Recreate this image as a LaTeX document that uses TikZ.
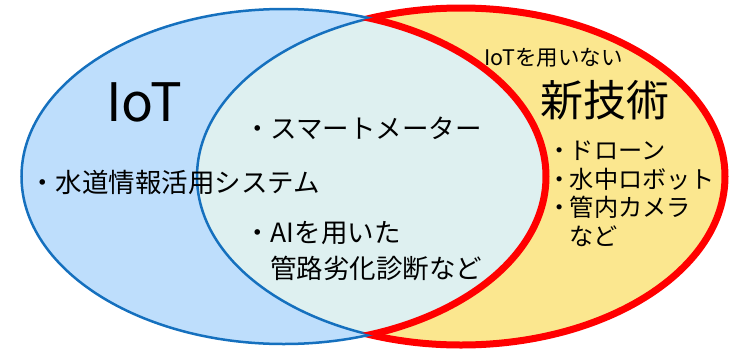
\documentclass[tikz,border=0pt]{standalone}
\usepackage{fontspec}
\setmainfont{Noto Sans CJK JP}
\definecolor{bluefill}{RGB}{190,222,252}
\definecolor{yelfill}{RGB}{251,231,143}
\definecolor{cyanfill}{RGB}{222,240,240}
\definecolor{blueline}{RGB}{21,112,190}
\definecolor{redline}{RGB}{255,0,0}
\begin{document}
\begin{tikzpicture}[x=1pt,y=-1pt,
  txt/.style={inner sep=0pt,anchor=west,text=black},
  mainfont/.style={font=\fontsize{26.5}{31}\selectfont},
  listfont/.style={font=\fontsize{24.2}{28}\selectfont}]
\useasboundingbox (0,0) rectangle (740,354);
\def\EA{(283.75,176.5) ellipse [x radius=262.25pt, y radius=167.5pt]}
\def\EB{(461,176.5) ellipse [x radius=264pt, y radius=168.5pt]}
% right ellipse: yellow with red border
\fill[yelfill] \EB;
\draw[redline,line width=7pt] \EB;
% left ellipse fill
\begin{scope}
  \clip \EA;
  \fill[bluefill] \EA;
  \clip \EB;
  \fill[cyanfill] \EB;
\end{scope}
% left arc of right ellipse in blue (inside left ellipse)
\begin{scope}
  \clip \EA;
  \draw[blueline,line width=2.5pt] \EB;
\end{scope}
\draw[blueline,line width=2.5pt] \EA;
% right arc of left ellipse in red (inside right ellipse)
\begin{scope}
  \clip \EB;
  \draw[redline,line width=7pt] \EA;
\end{scope}
% texts
\node[txt,font=\fontsize{53}{60}\selectfont] (iot) at (106,102.5) {IoT};
\node[txt,mainfont] (suido) at (29,182) {・水道情報活用システム};
\node[txt,mainfont] (smart) at (244,128) {・スマートメーター};
\node[txt,mainfont] (ai1) at (244,233) {・AIを用いた};
\node[txt,mainfont] (ai2) at (270,268) {管路劣化診断など};
\node[txt,font=\fontsize{21.5}{25}\selectfont] (notiot) at (484,58) {IoTを用いない};
\node[txt,font=\fontsize{43}{48}\selectfont] (shin) at (540,100) {新技術};
\node[txt,listfont] (drone) at (547.5,151) {・\kern-2pt ドローン};
\node[txt,listfont] (robot) at (547.5,179) {・\kern-2pt 水中ロボット};
\node[txt,listfont] (camera) at (547.5,207) {・\kern-2pt 管内カメラ};
\node[txt,listfont] (nado) at (569.5,236) {など};
\end{tikzpicture}
\end{document}
